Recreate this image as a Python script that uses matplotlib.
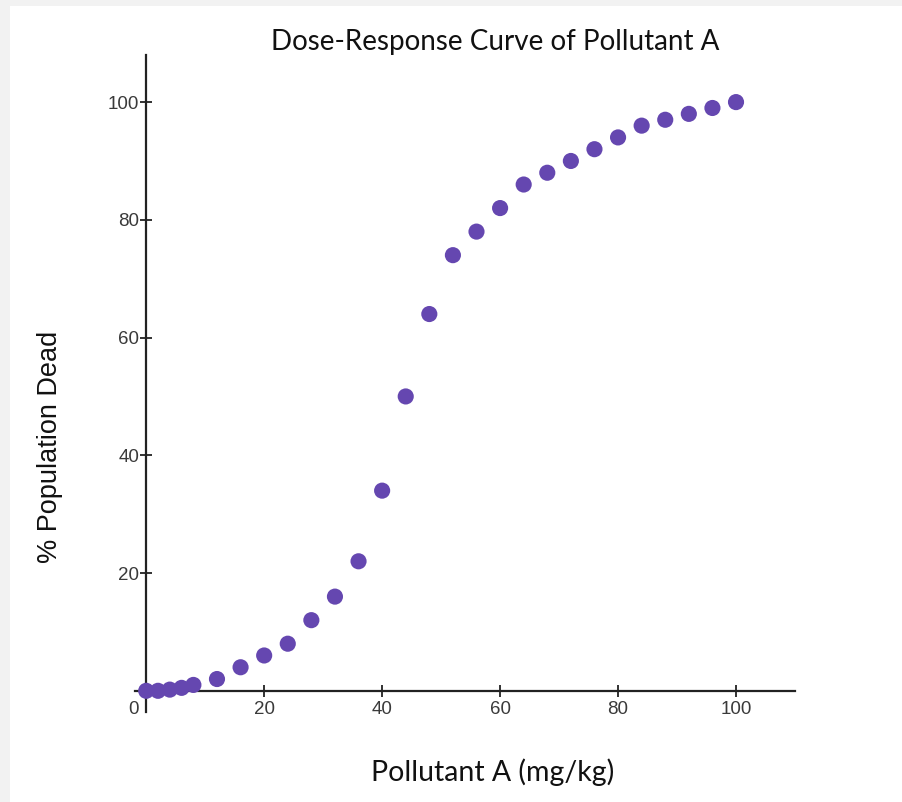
import matplotlib
matplotlib.use("Agg")
import matplotlib.pyplot as plt
import matplotlib.transforms as mtransforms
from matplotlib.patches import Rectangle

dose = [0, 2, 4, 6, 8, 12, 16, 20, 24, 28, 32, 36, 40, 44, 48, 52, 56, 60,
        64, 68, 72, 76, 80, 84, 88, 92, 96, 100]
dead = [0, 0, 0.2, 0.5, 1, 2, 4, 6, 8, 12, 16, 22, 34, 50, 64, 74, 78, 82,
        86, 88, 90, 92, 94, 96, 97, 98, 99, 100]
xticks = [0, 20, 40, 60, 80, 100]
yticks = [20, 40, 60, 80, 100]

W, H = 903, 802
fig = plt.figure(figsize=(W / 100, H / 100), dpi=100)
fig.patch.set_facecolor("white")
# light gray frame at top and left
fig.patches.append(Rectangle((0, 1 - 6 / H), 1, 6 / H, transform=fig.transFigure,
                             facecolor="#f2f2f2", edgecolor="none", zorder=0))
fig.patches.append(Rectangle((0, 0), 10 / W, 1, transform=fig.transFigure,
                             facecolor="#f2f2f2", edgecolor="none", zorder=0))

ax = fig.add_axes([135 / W, 1 - 712 / H, 660 / W, 657 / H])
ax.set_xlim(-1.9, 110)
ax.set_ylim(-3.6, 108)
ax.scatter(dose, dead, s=135, color="#6547b0", edgecolors="none", zorder=3,
           clip_on=False)

for s in ["top", "right"]:
    ax.spines[s].set_visible(False)
for s in ["left", "bottom"]:
    ax.spines[s].set_position(("data", 0))
    ax.spines[s].set_linewidth(1.6)
    ax.spines[s].set_color("#222222")

ax.set_xticks(xticks)
ax.set_xticklabels([str(v) for v in xticks])
ax.set_yticks(yticks)
ax.set_yticklabels([str(v) for v in yticks])
ax.tick_params(direction="inout", length=8, width=1.3, color="#222222",
               labelsize=13.5, labelcolor="#3a3a3a", pad=3)
for lab in ax.get_xticklabels() + ax.get_yticklabels():
    lab.set_fontfamily("Liberation Sans")
ax.tick_params(axis="y", pad=1)
# shift the "0" x label left, as in the reference
zl = ax.get_xticklabels()[0]
zl.set_transform(zl.get_transform() + mtransforms.ScaledTranslation(-13 / 100, 0, fig.dpi_scale_trans))

fig.text(495 / W, 1 - 42 / H, "Dose-Response Curve of Pollutant A", ha="center",
         va="center", fontsize=20, family="Lato", color="#111111")
fig.text(493 / W, 1 - 772 / H, "Pollutant A (mg/kg)", ha="center",
         va="center", fontsize=20.5, family="Lato", color="#111111")
fig.text(50 / W, 1 - 447 / H, "% Population Dead", ha="center", va="center",
         rotation=90, fontsize=19.5, family="Liberation Sans", color="#111111")

fig.savefig("out.png", dpi=100)
